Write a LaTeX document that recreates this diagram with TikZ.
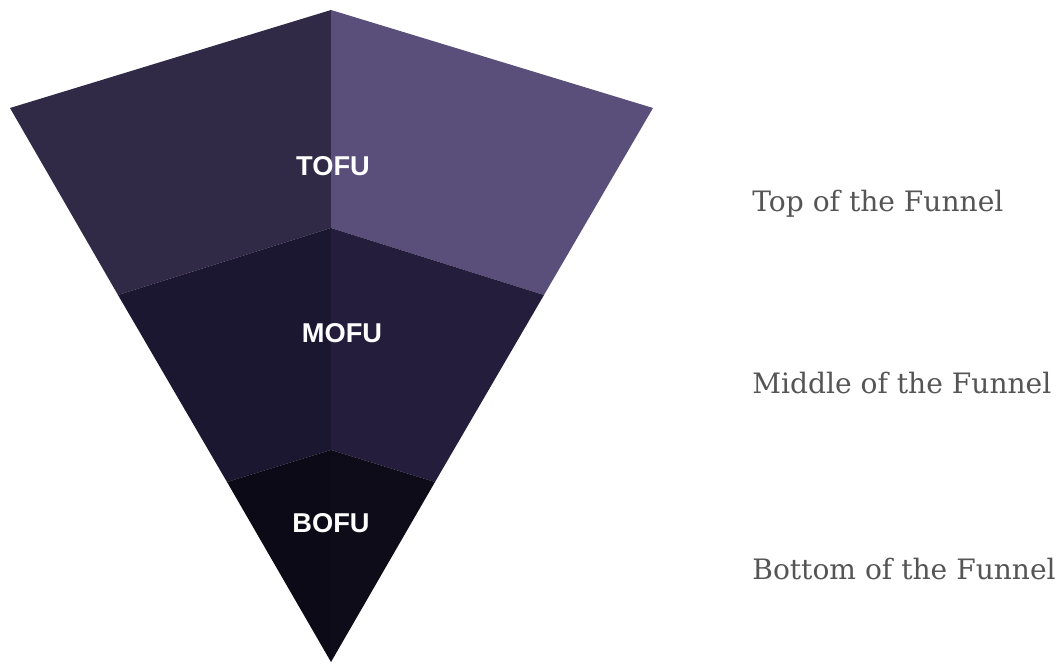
\documentclass[tikz,border=0pt]{standalone}
\usepackage{fontspec}
\setmainfont{DejaVu Serif}
\setsansfont{Liberation Sans}
\definecolor{tofuleft}{HTML}{302A46}
\definecolor{tofuright}{HTML}{5A4E7A}
\definecolor{mofuleft}{HTML}{1C1730}
\definecolor{mofuright}{HTML}{241E3C}
\definecolor{bofuleft}{HTML}{0C0A16}
\definecolor{bofuright}{HTML}{0F0C1A}
\definecolor{captiongray}{HTML}{555555}
\begin{document}
\begin{tikzpicture}[x=0.02cm,y=-0.02cm,line join=round,
  stage/.style={text=white,font=\sffamily\bfseries\fontsize{15.5}{16}\selectfont},
  caption/.style={anchor=base west,text=captiongray,inner sep=0pt,font=\fontsize{16}{17}\selectfont}]
\useasboundingbox (0,0) rectangle (1063,666);
\coordinate (apex) at (331,10);
\coordinate (tl) at (10,108);
\coordinate (tr) at (653,108);
\coordinate (ml) at (118,295);
\coordinate (mc) at (331,228);
\coordinate (mr) at (544,295);
\coordinate (bl) at (227,482);
\coordinate (bc) at (331,450);
\coordinate (br) at (435,482);
\coordinate (tip) at (331,662);
\fill[tofuleft] (apex) -- (tl) -- (ml) -- (mc) -- cycle;
\fill[tofuright] (apex) -- (tr) -- (mr) -- (mc) -- cycle;
\fill[mofuleft] (mc) -- (ml) -- (bl) -- (bc) -- cycle;
\fill[mofuright] (mc) -- (mr) -- (br) -- (bc) -- cycle;
\fill[bofuleft] (bc) -- (bl) -- (tip) -- cycle;
\fill[bofuright] (bc) -- (br) -- (tip) -- cycle;
\node[stage] (tofu) at (333,166) {TOFU};
\node[stage] (mofu) at (342,333) {MOFU};
\node[stage] (bofu) at (331,523) {BOFU};
\node[caption] (top) at (752,211) {Top of the Funnel};
\node[caption] (middle) at (752,393) {Middle of the Funnel};
\node[caption] (bottom) at (752,579) {Bottom of the Funnel};
\end{tikzpicture}
\end{document}
